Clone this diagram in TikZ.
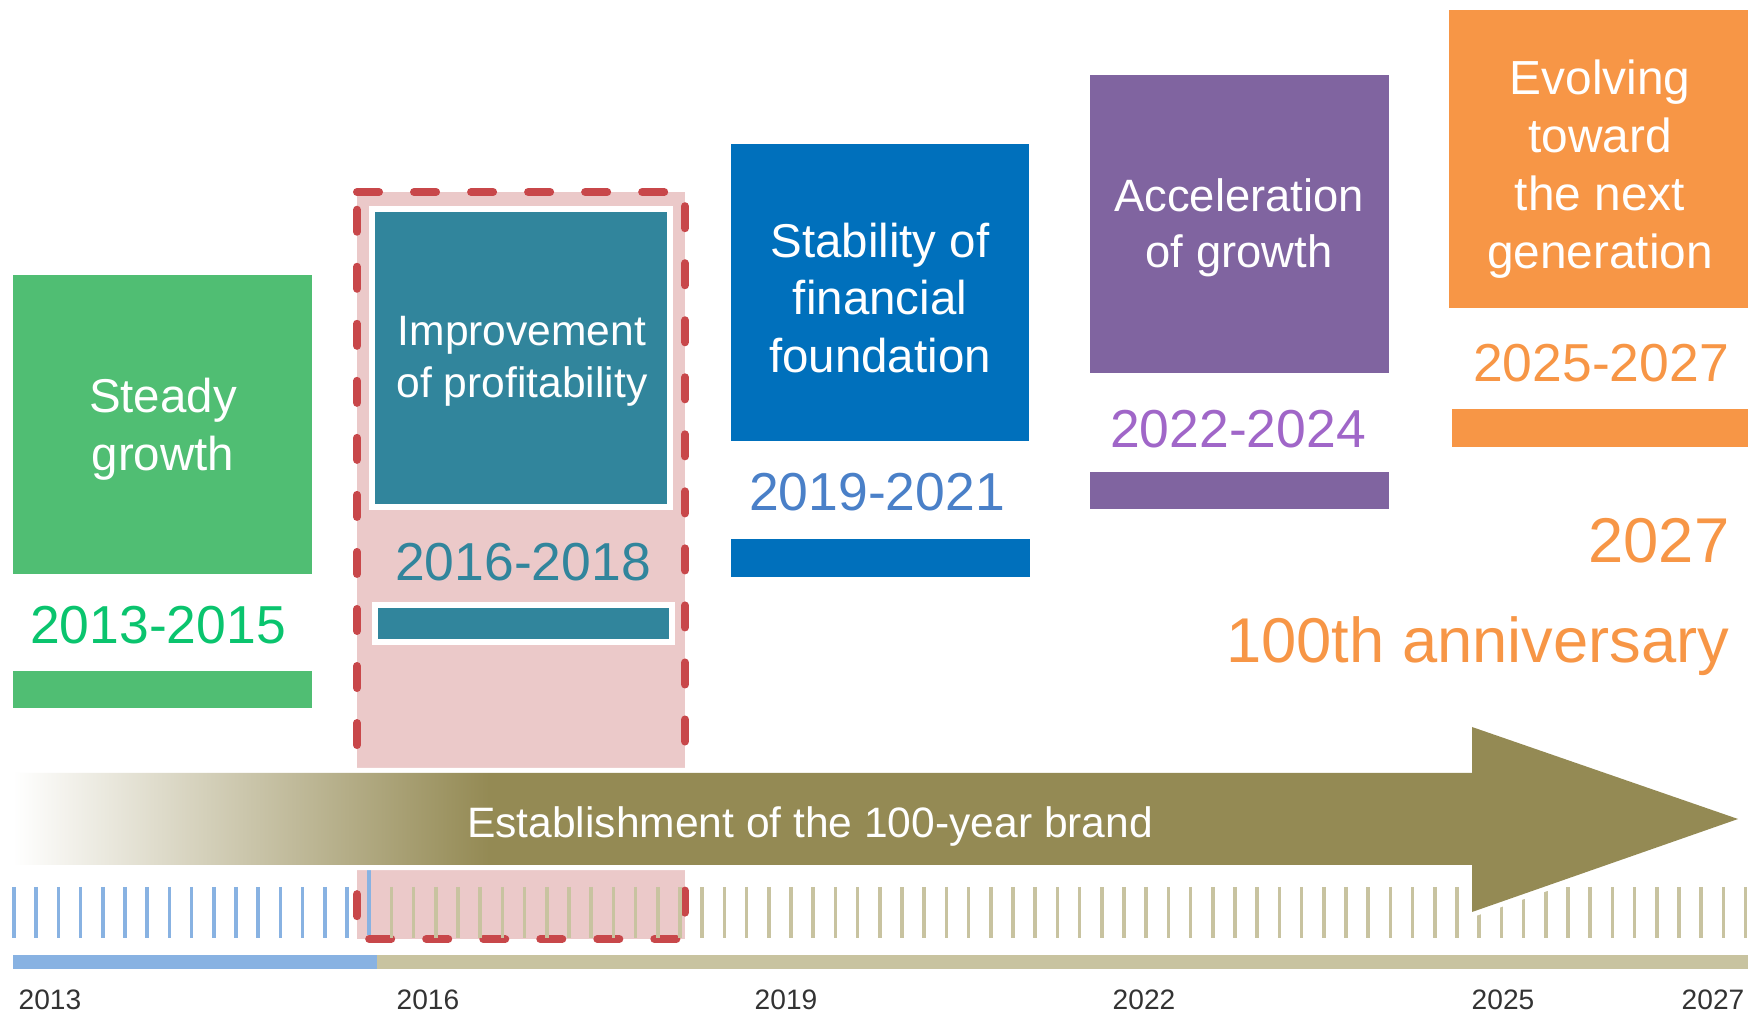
\documentclass[tikz,border=0pt]{standalone}
\usepackage{fontspec}
\setmainfont{Liberation Sans}
\usetikzlibrary{positioning}

\definecolor{grnbox}{HTML}{50BE73}
\definecolor{grntxt}{HTML}{0AC46E}
\definecolor{tealbox}{HTML}{31859C}
\definecolor{bluebox}{HTML}{0070BC}
\definecolor{bluetxt}{HTML}{4A80C8}
\definecolor{purpbox}{HTML}{8064A0}
\definecolor{purptxt}{HTML}{A066C8}
\definecolor{orgbox}{HTML}{F79646}
\definecolor{pinkfill}{HTML}{EBC9C9}
\definecolor{reddash}{HTML}{C8474A}
\definecolor{olive}{HTML}{948A54}
\definecolor{olivetick}{HTML}{C8C3A0}
\definecolor{bluetick}{HTML}{88B2E2}
\definecolor{yeargray}{HTML}{333333}

% white at the tail, full olive from about one third of the body
\pgfdeclarehorizontalshading{brandfade}{100bp}{color(0bp)=(white); color(25bp)=(white); color(38.8bp)=(olive); color(100bp)=(olive)}

\tikzset{
  phasebox/.style={inner sep=0pt, minimum width=2.99cm, minimum height=2.98cm},
  phasetext/.style={text=white, align=center, inner sep=0pt, font=\fontsize{13.5}{16.4}\selectfont},
  period/.style={inner sep=0pt, font=\fontsize{15.2}{18}\selectfont},
  yearlbl/.style={inner sep=0pt, text=yeargray, font=\fontsize{8}{10}\selectfont},
  tickmark/.style={line width=0.035cm}
}

\begin{document}
\begin{tikzpicture}[x=0.01cm, y=-0.01cm]
    \useasboundingbox (0,0) rectangle (1748,1016);

    % Focus frame 2016-2018
    \fill[pinkfill] (357,192) rectangle (685,939);
    \draw[reddash, line width=0.08cm, line cap=round, dash pattern=on 0.22cm off 0.35cm] (357,192) -- (685,192) -- (685,939) -- (357,939) -- cycle;

    % Steady growth
    \node[phasebox, fill=grnbox] (steady) at (162.5,424.5) {};
    \node[phasetext] (steadytxt) at (163,429) {Steady\\growth};
    \node[period, text=grntxt] (p1315) at (158,625) {2013-2015};
    \fill[grnbox] (13,671) rectangle (312,708);

    % Improvement of profitability
    \node[phasebox, fill=tealbox, draw=white, line width=0.06cm, minimum width=2.98cm] (profit) at (521,358) {};
    \node[phasetext, font=\fontsize{12.1}{14.8}\selectfont] (profittxt) at (522,361) {Improvement\\of profitability};
    \node[period, text=tealbox] (p1618) at (523,562) {2016-2018};
    \filldraw[fill=tealbox, draw=white, line width=0.06cm] (375,605) rectangle (672,642);

    % Stability of financial foundation
    \node[phasebox, fill=bluebox, minimum width=2.98cm, minimum height=2.97cm] (stable) at (880,292.5) {};
    \node[phasetext] (stabletxt) at (880,298) {Stability of\\financial\\foundation};
    \node[period, text=bluetxt] (p1921) at (877,492) {2019-2021};
    \fill[bluebox] (731,539) rectangle (1030,577);

    % Acceleration of growth
    \node[phasebox, fill=purpbox] (accel) at (1239.5,224) {};
    \node[phasetext, font=\fontsize{12.9}{16}\selectfont] (acceltxt) at (1239,227.5) {Acceleration\\of growth};
    \node[period, text=purptxt] (p2224) at (1238,429) {2022-2024};
    \fill[purpbox] (1090,472) rectangle (1389,509);

    % Evolving toward the next generation
    \node[phasebox, fill=orgbox] (evolve) at (1598.5,159) {};
    \node[phasetext, font=\fontsize{13.6}{16.5}\selectfont] (evolvetxt) at (1600,169) {Evolving\\toward\\the next\\generation};
    \node[period, text=orgbox] (p2527) at (1601,363) {2025-2027};
    \fill[orgbox] (1452,409) rectangle (1748,447);

    % Anniversary
    \node[inner sep=0pt, text=orgbox, font=\fontsize{18}{22}\selectfont, anchor=east] (yr27) at (1730,541) {2027};
    \node[inner sep=0pt, text=orgbox, font=\fontsize{18}{22}\selectfont, anchor=base east] (anniv) at (1730,663) {100th anniversary};

    % Tick marks
    \foreach \i in {0,...,15}
        \draw[tickmark, bluetick] ({14+22.2*\i},887) -- ++(0,51);
    \foreach \i in {17,...,78}
        \draw[tickmark, olivetick] ({14+22.2*\i},887) -- ++(0,51);
    \draw[tickmark, bluetick] (369,870) -- (369,935);

    % Time bar
    \fill[bluetick] (13,955) rectangle (377,969);
    \fill[olivetick] (377,955) rectangle (1748,969);

    % Brand arrow
    \shade[shading=brandfade, preaction={draw=white, line width=0.1cm}] (13,773) -- (1472,773) -- (1472,727) -- (1738,819) -- (1472,912) -- (1472,865) -- (13,865) -- cycle;
    \node[inner sep=0pt, text=white, font=\fontsize{12.1}{14}\selectfont] (brand) at (810,826) {Establishment of the 100-year brand};

    % Year labels
    \foreach \yr/\xx in {2013/50, 2016/428, 2019/786, 2022/1144, 2025/1503, 2027/1713}
        \node[yearlbl] (y\yr) at (\xx,1000) {\yr};
\end{tikzpicture}
\end{document}
